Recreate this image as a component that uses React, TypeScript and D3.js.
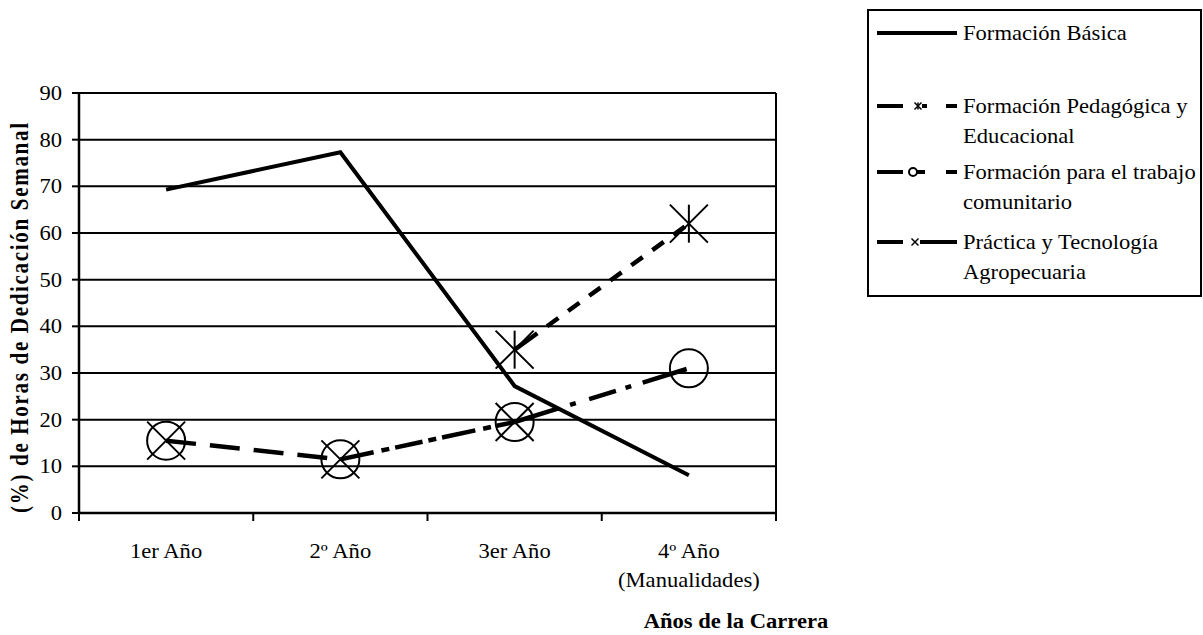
import React from "react";
import * as d3 from "d3";

// Chart data
const categories = ["1er Año", "2º Año", "3er Año", "4º Año"];
const categorySubLabels = ["", "", "", "(Manualidades)"];
const yTicks = [0, 10, 20, 30, 40, 50, 60, 70, 80, 90];

const basica = [69.3, 77.3, 27.2, 8.1];
const pedagogica: (number | null)[] = [null, null, 35, 62];
const comunitario = [15.5, 11.5, 19.5, 31];
const practica: (number | null)[] = [15.5, 11.5, 19.5, null];

const legendLabels = [
  ["Formación Básica"],
  ["Formación Pedagógica y", "Educacional"],
  ["Formación para el trabajo", "comunitario"],
  ["Práctica y Tecnología", "Agropecuaria"],
];

// Dash patterns for each segment of the community-work series
const comunitarioSegmentDash = ["30,14", "34,8,8,6,28,6,8,6", "46,12,6,14,28,10,6,12"];

const FONT = "'Liberation Serif', 'Times New Roman', serif";
const SX = 1.13;

const W = 1203;
const H = 635;
const PLOT = { left: 79, right: 776, top: 93, bottom: 513 };

function SText({ x, y, children, anchor = "start", size = 20, bold = false }: any) {
  return (
    <text
      transform={`translate(${x},${y}) scale(${SX},1)`}
      textAnchor={anchor}
      fontFamily={FONT}
      fontSize={size}
      fontWeight={bold ? "bold" : "normal"}
      fill="#000"
    >
      {children}
    </text>
  );
}

function Cross({ cx, cy, r, sw = 2 }: any) {
  return (
    <g stroke="#000" strokeWidth={sw} fill="none">
      <line x1={cx - r} y1={cy - r} x2={cx + r} y2={cy + r} />
      <line x1={cx - r} y1={cy + r} x2={cx + r} y2={cy - r} />
    </g>
  );
}

function Star({ cx, cy, r, sw = 2 }: any) {
  return (
    <g stroke="#000" strokeWidth={sw} fill="none">
      <line x1={cx - r} y1={cy - r} x2={cx + r} y2={cy + r} />
      <line x1={cx - r} y1={cy + r} x2={cx + r} y2={cy - r} />
      <line x1={cx} y1={cy - r} x2={cx} y2={cy + r} />
    </g>
  );
}

function Ring({ cx, cy, r, sw = 2 }: any) {
  return <circle cx={cx} cy={cy} r={r} stroke="#000" strokeWidth={sw} fill="none" />;
}

export default function App() {
  const x = d3.scaleBand<string>().domain(categories).range([PLOT.left, PLOT.right]);
  const y = d3.scaleLinear().domain([0, 90]).range([PLOT.bottom, PLOT.top]);
  const cx = (i: number) => (x(categories[i]) as number) + x.bandwidth() / 2;

  const line = d3
    .line<[number, number | null]>()
    .defined((d) => d[1] !== null)
    .x((d) => cx(d[0]))
    .y((d) => y(d[1] as number));

  const idx = (vals: (number | null)[]) => vals.map((v, i) => [i, v] as [number, number | null]);

  const bandEdges = [...categories.map((c) => x(c) as number), PLOT.right];
  const mr = 19;

  const legendY = [33, 106, 172, 242];
  const lx0 = 877;
  const lx1 = 957;

  return (
    <svg width={W} height={H} style={{ position: "absolute", left: 0, top: 0 }}>
      <rect width={W} height={H} fill="#fff" />

      {/* gridlines */}
      {yTicks.filter((t) => t > 0).map((t) => (
        <line key={t} x1={PLOT.left} x2={PLOT.right} y1={y(t)} y2={y(t)} stroke="#000" strokeWidth={2} />
      ))}
      {/* plot frame right side */}
      <line x1={PLOT.right} x2={PLOT.right} y1={PLOT.top} y2={PLOT.bottom} stroke="#000" strokeWidth={2} />

      {/* y axis */}
      <line x1={PLOT.left} x2={PLOT.left} y1={PLOT.top - 1} y2={PLOT.bottom + 1} stroke="#000" strokeWidth={2.5} />
      {yTicks.map((t) => (
        <g key={t}>
          <line x1={PLOT.left - 7} x2={PLOT.left} y1={y(t)} y2={y(t)} stroke="#000" strokeWidth={2} />
          <SText x={62} y={y(t) + 7} anchor="end">{t}</SText>
        </g>
      ))}

      {/* x axis */}
      <line x1={PLOT.left} x2={PLOT.right} y1={PLOT.bottom} y2={PLOT.bottom} stroke="#000" strokeWidth={2.5} />
      {bandEdges.map((e, i) => (
        <line key={i} x1={e} x2={e} y1={PLOT.bottom} y2={PLOT.bottom + 8} stroke="#000" strokeWidth={2} />
      ))}
      {categories.map((c, i) => (
        <g key={c}>
          <SText x={cx(i)} y={558} anchor="middle">{c}</SText>
          {categorySubLabels[i] && (
            <SText x={cx(i)} y={587} anchor="middle">{categorySubLabels[i]}</SText>
          )}
        </g>
      ))}

      {/* axis titles */}
      <SText x={736} y={628} anchor="middle" bold>Años de la Carrera</SText>
      <text
        transform={`translate(28,${(PLOT.top + PLOT.bottom) / 2 + 15}) rotate(-90) scale(1,1.2)`}
        textAnchor="middle"
        fontFamily={FONT}
        fontSize={21}
        fontWeight="bold"
        textLength={390}
        lengthAdjust="spacing"
      >
        (%) de Horas de Dedicación Semanal
      </text>

      {/* community work series: segment-wise dashes */}
      {comunitario.slice(0, -1).map((v, i) => (
        <path
          key={i}
          d={line([[i, v], [i + 1, comunitario[i + 1]]]) as string}
          fill="none"
          stroke="#000"
          strokeWidth={4.5}
          strokeDasharray={comunitarioSegmentDash[i]}
        />
      ))}

      {/* pedagogical series */}
      <path
        d={line(idx(pedagogica)) as string}
        fill="none"
        stroke="#000"
        strokeWidth={4.5}
        strokeDasharray="28,12,14,12,14,12,14,12,14,12,14,12,14,12,14,12"
      />

      {/* basic training series */}
      <path d={line(idx(basica)) as string} fill="none" stroke="#000" strokeWidth={4} strokeLinejoin="miter" />

      {/* markers */}
      {comunitario.map((v, i) => (
        <Ring key={"c" + i} cx={cx(i)} cy={y(v)} r={mr} />
      ))}
      {practica.map((v, i) =>
        v === null ? null : <Cross key={"p" + i} cx={cx(i)} cy={y(v)} r={mr} />
      )}
      {pedagogica.map((v, i) =>
        v === null ? null : <Star key={"s" + i} cx={cx(i)} cy={y(v)} r={mr} />
      )}

      {/* legend */}
      <rect x={868} y={10} width={333} height={286} fill="none" stroke="#000" strokeWidth={2} />
      <line x1={lx0} x2={lx1} y1={legendY[0]} y2={legendY[0]} stroke="#000" strokeWidth={4} />
      <line x1={lx0} x2={lx1} y1={legendY[1]} y2={legendY[1]} stroke="#000" strokeWidth={4} strokeDasharray="26,19,5,19,11" />
      <Star cx={918} cy={legendY[1]} r={3.5} sw={1.5} />
      <line x1={lx0} x2={lx1} y1={legendY[2]} y2={legendY[2]} stroke="#000" strokeWidth={4} strokeDasharray="26,14,8,21,11" />
      <Ring cx={913} cy={legendY[2]} r={4} sw={2} />
      <line x1={lx0} x2={lx1} y1={legendY[3]} y2={legendY[3]} stroke="#000" strokeWidth={4} strokeDasharray="26,17,37" />
      <Cross cx={915} cy={legendY[3]} r={3.5} sw={1.5} />
      {legendLabels.map((lines, i) =>
        lines.map((t, j) => (
          <SText key={i + "-" + j} x={963} y={legendY[i] + 7 + j * 30}>{t}</SText>
        ))
      )}
    </svg>
  );
}
